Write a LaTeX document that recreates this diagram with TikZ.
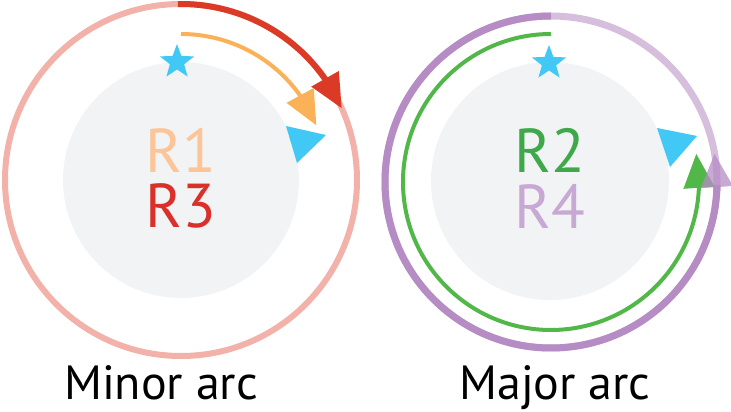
\documentclass[tikz,border=0pt]{standalone}
\usepackage{fontspec}
\setmainfont{PT Sans}
\usetikzlibrary{arrows.meta,bending,shapes.geometric}
\definecolor{pinkring}{HTML}{F2B1A9}
\definecolor{redarc}{HTML}{DB3A26}
\definecolor{orangearc}{HTML}{FBB157}
\definecolor{peachtext}{HTML}{FDC597}
\definecolor{redtext}{HTML}{D9302A}
\definecolor{diskgray}{HTML}{F2F3F5}
\definecolor{markblue}{HTML}{41C8F5}
\definecolor{purpledark}{HTML}{B68CC5}
\definecolor{purplelight}{HTML}{D6BEDD}
\definecolor{greenarc}{HTML}{52B749}
\definecolor{greentext}{HTML}{3EA84A}
\definecolor{purpletext}{HTML}{C8A9D4}

\begin{document}
\begin{tikzpicture}[x=1pt,y=1pt,
    bigtip/.style={-{Triangle[length=34pt,width=30pt]}},
    startstar/.style={star, star points=5, star point ratio=2.4,
      minimum size=36pt, inner sep=0pt, fill=markblue},
    rlabel/.style={font=\fontsize{62}{62}\selectfont, inner sep=0pt},
    caption/.style={font=\fontsize{48}{48}\selectfont, anchor=base}]
\useasboundingbox (0,0) rectangle (731,412);

% Minor arc (left)
\coordinate (cL) at (181,232);
\fill[diskgray] (cL) circle[radius=118];
\draw[pinkring, line width=6] (cL) circle[radius=176];
\draw[redarc, line width=6, bigtip] (cL) ++(91:176)
  arc[start angle=91, end angle=24, radius=176];
\draw[orangearc, line width=4, bigtip] (cL) ++(90:146)
  arc[start angle=90, end angle=22, radius=146];
\node[startstar] (starL) at (177,350) {};
\fill[markblue] (286,286) -- (326,277) -- (297,249) -- cycle;
\node[rlabel, text=peachtext] (rone) at (181,262) {R1};
\node[rlabel, text=redtext] (rthree) at (181,206) {R3};
\node[caption] (minor) at (161,12) {Minor arc};

% Major arc (right)
\coordinate (cR) at (551,230);
\fill[diskgray] (550,231) circle[radius=119];
\draw[purplelight, line width=7] (cR) circle[radius=166];
\draw[purpledark, line width=7] (cR) ++(90:166)
  arc[start angle=90, end angle=359, radius=166];
\draw[greenarc, line width=4, bigtip] (cR) ++(90:148)
  arc[start angle=90, end angle=371, radius=148];
\begin{scope}[transparency group, opacity=0.75]
  \draw[purpledark, line width=7, bigtip] (cR) ++(357:166)
    arc[start angle=357, end angle=370, radius=166];
\end{scope}
\node[startstar] (starR) at (549,349) {};
\fill[markblue] (657,284) -- (697,276) -- (670,245) -- cycle;
\node[rlabel, text=greentext] (rtwo) at (550,262) {R2};
\node[rlabel, text=purpletext] (rfour) at (550,206) {R4};
\node[caption] (major) at (555,12) {Major arc};
\end{tikzpicture}
\end{document}
